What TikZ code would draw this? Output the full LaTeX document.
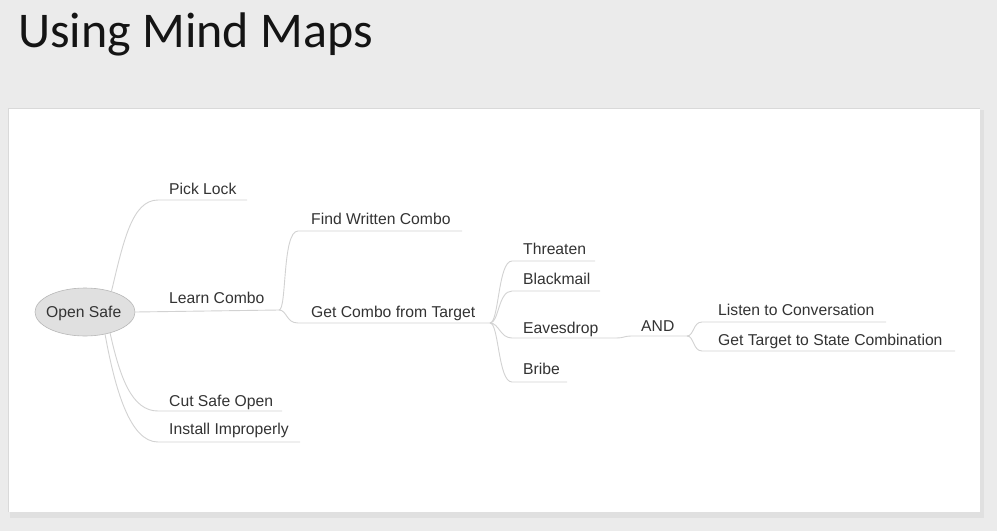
\documentclass[tikz,border=0pt]{standalone}
\usepackage{fontspec}
\setmainfont{Liberation Sans}
\newfontfamily\titlefont{Carlito}
\usetikzlibrary{shapes.geometric,calc}
\definecolor{bgc}{HTML}{EBEBEB}
\definecolor{linec}{HTML}{D2D2D2}
\definecolor{txtc}{HTML}{333333}
\definecolor{rootfill}{HTML}{E0E0E0}
\definecolor{rootdraw}{HTML}{B8B8B8}
\begin{document}
\begin{tikzpicture}[x=1pt,y=-1pt,
  lbl/.style={anchor=base west,inner sep=0pt,font=\fontsize{15.7}{18}\selectfont,text=txtc},
  br/.style={draw=linec,line width=0.9pt},
  rootnode/.style={ellipse,fill=rootfill,draw=rootdraw,line width=0.6pt,minimum width=100pt,minimum height=48pt,inner sep=0pt}]
\useasboundingbox (0,0) rectangle (997,531);
\fill[bgc] (0,0) rectangle (997,531);
% panel with shadow
\fill[black!22] (11,111) rectangle (983,516);
\fill[black!12] (10,110) rectangle (984,518);
\fill[white] (8,108) rectangle (980,512);
\draw[black!15,line width=0.6pt] (8,512) -- (8,108) -- (980,108);
% title
\node[anchor=base west,inner sep=0pt,font=\titlefont\fontsize{50}{60}\selectfont,text=black!92] (title) at (18,47) {Using Mind Maps};

% root
\node[rootnode] (root) at (85,312) {};
\node[lbl] (rootlbl) at (46,317.5) {Open Safe};

% coordinates for underlines
\coordinate (pickS) at (158,200); \coordinate (pickE) at (247,200);
\coordinate (lcE) at (279,310);
\coordinate (cutS) at (158,411); \coordinate (cutE) at (282,411);
\coordinate (instS) at (158,442); \coordinate (instE) at (300,442);
\coordinate (findS) at (298,231); \coordinate (findE) at (462,231);
\coordinate (getS) at (298,323); \coordinate (getE) at (490,323);
\coordinate (thrS) at (512,261); \coordinate (thrE) at (595,261);
\coordinate (blkS) at (512,291); \coordinate (blkE) at (600,291);
\coordinate (eavS) at (512,338); \coordinate (eavE) at (617,338);
\coordinate (brbS) at (512,382); \coordinate (brbE) at (567,382);
\coordinate (andS) at (631,336); \coordinate (andE) at (687,336);
\coordinate (lisS) at (702,322); \coordinate (lisE) at (886,322);
\coordinate (gtsS) at (702,351); \coordinate (gtsE) at (955,351);

% labels
\node[lbl] (pick) at (169,194.5) {Pick Lock};
\node[lbl] (learn) at (169,303) {Learn Combo};
\node[lbl] (cut) at (169,406.5) {Cut Safe Open};
\node[lbl] (inst) at (169,434.5) {Install Improperly};
\node[lbl] (find) at (311,224.5) {Find Written Combo};
\node[lbl] (get) at (311,317.5) {Get Combo from Target};
\node[lbl] (thr) at (523,254.5) {Threaten};
\node[lbl] (blk) at (523,284.5) {Blackmail};
\node[lbl] (eav) at (523,333) {Eavesdrop};
\node[lbl] (brb) at (523,374.5) {Bribe};
\node[lbl] (and) at (641,331.5) {AND};
\node[lbl] (lis) at (718,315.5) {Listen to Conversation};
\node[lbl] (gts) at (718,345.5) {Get Target to State Combination};

% branches from root
\draw[br] (root.38) .. controls +(12,-50) and +(-26,0) .. (pickS) -- (pickE);
\draw[br] (root.east) -- (lcE);
\draw[br] (root.-40) .. controls +(10,45) and +(-26,0) .. (cutS) -- (cutE);
\draw[br] (root.-48) .. controls +(10,55) and +(-28,0) .. (instS) -- (instE);
% level 2
\draw[br] (lcE) .. controls +(8,0) and +(-16,0) .. (findS) -- (findE);
\draw[br] (lcE) .. controls +(8,0) and +(-12,0) .. (getS) -- (getE);
% level 3
\draw[br] (getE) .. controls +(9,0) and +(-14,0) .. (thrS) -- (thrE);
\draw[br] (getE) .. controls +(9,0) and +(-14,0) .. (blkS) -- (blkE);
\draw[br] (getE) .. controls +(9,0) and +(-12,0) .. (eavS) -- (eavE);
\draw[br] (getE) .. controls +(9,0) and +(-14,0) .. (brbS) -- (brbE);
% AND
\draw[br] (eavE) .. controls +(6,0) and +(-6,0) .. (andS) -- (andE);
\draw[br] (andE) .. controls +(7,0) and +(-9,0) .. (lisS) -- (lisE);
\draw[br] (andE) .. controls +(7,0) and +(-9,0) .. (gtsS) -- (gtsE);
\end{tikzpicture}
\end{document}
